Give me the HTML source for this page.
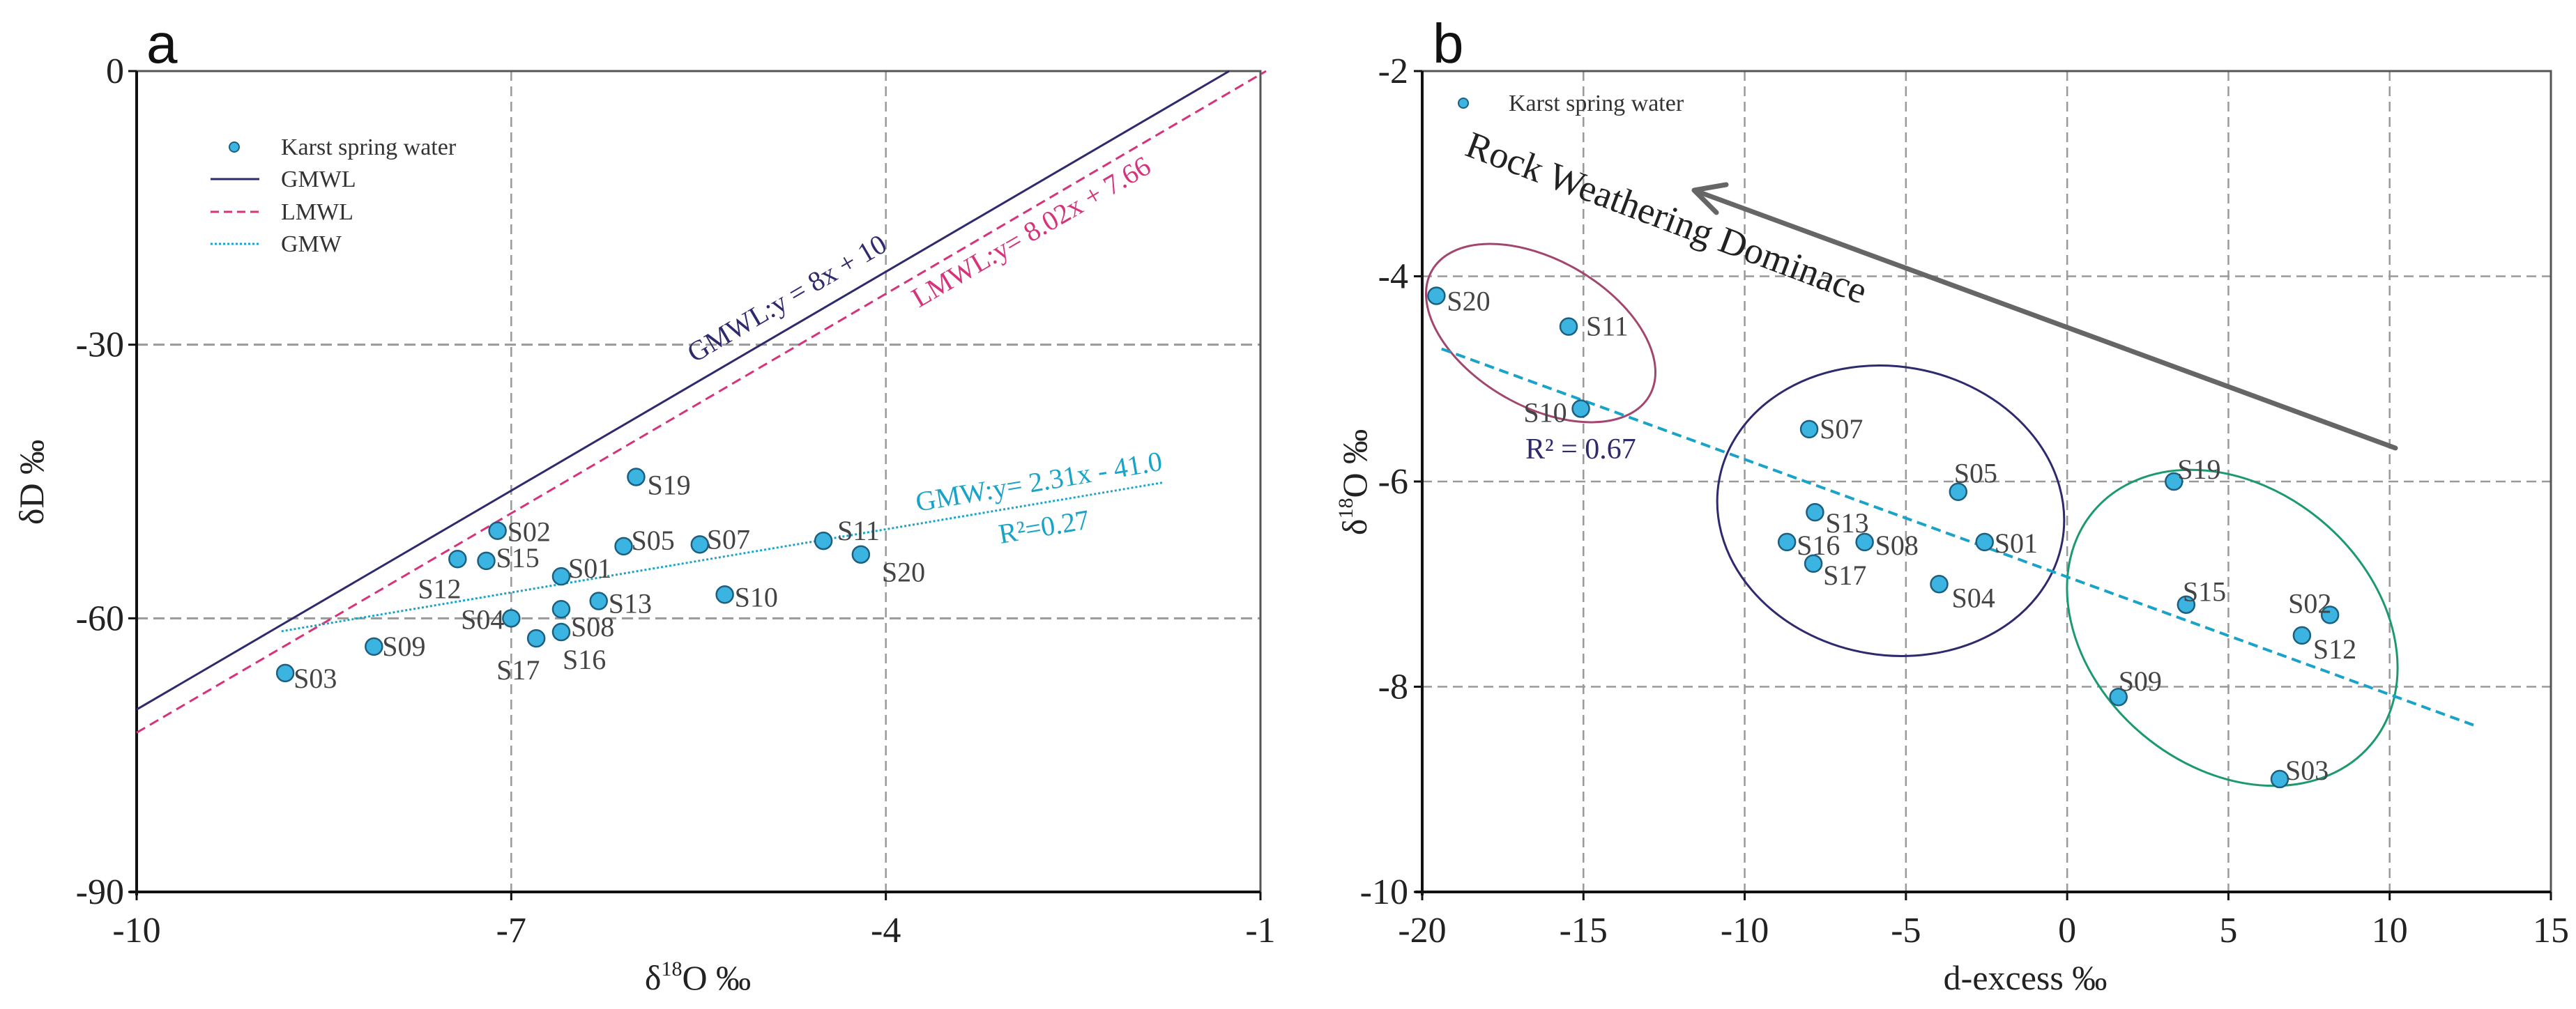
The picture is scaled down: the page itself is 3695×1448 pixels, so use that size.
<!DOCTYPE html>
<html><head><meta charset="utf-8"><style>
html,body{margin:0;padding:0;background:#fff;}
svg{display:block;font-family:"Liberation Serif",serif;}
</style></head><body>
<svg id="chart" width="3695" height="1448" viewBox="0 0 3695 1448" xmlns="http://www.w3.org/2000/svg"></svg>
<script>
// ---- Panel a data ----
const aNames = ["S19","S02","S15","S12","S05","S07","S01","S11","S20","S10","S13","S04","S08","S16","S17","S09","S03"];
const aO18 = [-6.00,-7.11,-7.20,-7.43,-6.10,-5.49,-6.60,-4.50,-4.20,-5.29,-6.30,-7.00,-6.60,-6.60,-6.80,-8.10,-8.81];
const aD = [-44.5,-50.4,-53.7,-53.5,-52.1,-51.9,-55.4,-51.5,-53.0,-57.4,-58.1,-60.0,-59.0,-61.5,-62.2,-63.1,-66.0];
const aXTicks = [-10,-7,-4,-1];
const aYTicks = [0,-30,-60,-90];
const gmwl = [8,10];        // slope, intercept
const lmwl = [8.02,7.66];
const gmw = [2.31,-41.0];
const gmwRange = [-8.84,-1.78];
// ---- Panel b data ----
const bNames = ["S20","S11","S10","S07","S05","S13","S16","S08","S01","S17","S04","S19","S15","S02","S12","S09","S03"];
const bDex = [-19.56,-15.46,-15.08,-8.0,-3.38,-7.82,-8.69,-6.28,-2.56,-7.87,-3.97,3.31,3.69,8.15,7.28,1.59,6.59];
const bO18 = [-4.19,-4.49,-5.29,-5.49,-6.10,-6.30,-6.59,-6.59,-6.59,-6.80,-7.00,-6.00,-7.20,-7.30,-7.50,-8.10,-8.90];
const bXTicks = [-20,-15,-10,-5,0,5,10,15];
const bYTicks = [-2,-4,-6,-8,-10];
const bFit = [-0.1146,-6.93];
const bFitRange = [-19.4,12.6];

// label placement (px offsets)
const aLab = {S19:[16,12,'start'],S02:[14,2,'start'],S15:[14,-4,'start'],S12:[-57,43,'start'],S05:[11,-8,'start'],S07:[10,-7,'start'],S01:[10,-11,'start'],S11:[20,-14,'start'],S20:[30,26,'start'],S10:[14,4,'start'],S13:[14,4,'start'],S04:[-10,2,'end'],S08:[14,26,'start'],S16:[2,40,'start'],S17:[-57,46,'start'],S09:[12,0,'start'],S03:[12,8,'start']};
const bLab = {S20:[15,8,'start'],S11:[25,0,'start'],S10:[-20,6,'end'],S07:[15,0,'start'],S05:[-6,-26,'start'],S13:[15,16,'start'],S16:[14,5,'start'],S08:[15,5,'start'],S01:[14,2,'start'],S17:[14,17,'start'],S04:[18,20,'start'],S19:[5,-17,'start'],S15:[-5,-18,'start'],S02:[-60,-16,'start'],S12:[16,20,'start'],S09:[0,-22,'start'],S03:[8,-12,'start']};

const svg = document.getElementById('chart');
const NS = 'http://www.w3.org/2000/svg';
function mk(tag, at, txt){const e=document.createElementNS(NS,tag);for(const k in at)e.setAttribute(k,at[k]);if(txt!==undefined)e.textContent=txt;svg.appendChild(e);return e;}

const xA=v=>196+(v+10)/9*1612, yA=v=>102+(-v)/90*1178;
const xB=v=>2040+(v+20)/35*1619, yB=v=>102+(-2-v)/8*1178;

// ---------- Panel a ----------
aXTicks.slice(1,3).forEach(t=>{let e=mk('line',{x1:xA(t),y1:102,x2:xA(t),y2:1280,stroke:'#999','stroke-width':2.5,'stroke-dasharray':'14 8'});

});
aYTicks.slice(1,3).forEach(t=>{let e=mk('line',{x1:196,y1:yA(t),x2:1808,y2:yA(t),stroke:'#999','stroke-width':3,'stroke-dasharray':'16 8'});

});
let fr=mk('rect',{x:196,y:102,width:1612,height:1178,fill:'none',stroke:'#555','stroke-width':3});


let ax=mk('path',{d:'M196 102V1285M186 1280H1808',stroke:'#111','stroke-width':4,fill:'none'});


aXTicks.forEach(t=>{let e=mk('text',{x:xA(t),y:1352,'text-anchor':'middle','font-size':52,fill:'#222'},String(t));


mk('line',{x1:xA(t),y1:1280,x2:xA(t),y2:1292,stroke:'#111','stroke-width':3});});
aYTicks.forEach(t=>{let e=mk('text',{x:178,y:yA(t)+17,'text-anchor':'end','font-size':52,fill:'#222'},String(t));


mk('line',{x1:184,y1:yA(t),x2:196,y2:yA(t),stroke:'#111','stroke-width':3});});
// lines
function regLine(p,x0,x1,col,w,dash,name){let e=mk('line',{x1:xA(x0),y1:yA(p[0]*x0+p[1]),x2:xA(x1),y2:yA(p[0]*x1+p[1]),stroke:col,'stroke-width':w,'stroke-dasharray':dash});

}
regLine(gmwl,-10,-10/8,'#2e2a6e',3,'none','gmwl-line');
regLine(lmwl,-10,-7.66/8.02,'#d6337a',3,'14 8','lmwl-line');
regLine(gmw,gmwRange[0],gmwRange[1],'#1aa3c8',3,'3 3','gmw-line');
// annotations
let t1=mk('text',{x:996,y:521,'font-size':40,fill:'#2e2a6e',transform:'rotate(-30.3 996 521)'},'GMWL:y = 8x + 10');

let t2=mk('text',{x:1318,y:442,'font-size':40,fill:'#d6337a',transform:'rotate(-30.3 1318 442)'},'LMWL:y= 8.02x + 7.66');

let t3=mk('text',{x:1316,y:734,'font-size':40,fill:'#1aa3c8',transform:'rotate(-9.6 1316 734)'},'GMW:y= 2.31x - 41.0');

let t4=mk('text',{x:1435,y:780,'font-size':40,fill:'#1aa3c8',transform:'rotate(-9.6 1435 780)'},'R²=0.27');

// points
aNames.forEach((n,i)=>{const cx=xA(aO18[i]),cy=yA(aD[i]);
let c=mk('circle',{cx:cx,cy:cy,r:12,fill:'#3cb4e2',stroke:'#1d5f7e','stroke-width':2.5});


const o=aLab[n];let l=mk('text',{x:cx+o[0],y:cy+o[1]+13,'text-anchor':o[2],'font-size':40,fill:'#444'},n);

});
// legend a
let lg=mk('circle',{cx:336,cy:211,r:7,fill:'#3cb4e2',stroke:'#1d5f7e','stroke-width':2});

mk('line',{x1:302,y1:257,x2:372,y2:257,stroke:'#2e2a6e','stroke-width':3});
mk('line',{x1:302,y1:304,x2:372,y2:304,stroke:'#d6337a','stroke-width':3,'stroke-dasharray':'12 7'});
mk('line',{x1:302,y1:350,x2:372,y2:350,stroke:'#1aa3c8','stroke-width':3,'stroke-dasharray':'3 3'});
[['Karst spring water',222],['GMWL',268],['LMWL',315],['GMW',361]].forEach(d=>{let e=mk('text',{x:403,y:d[1],'font-size':34,fill:'#333'},d[0]);
});
let la=mk('text',{x:210,y:90,'font-size':80,'font-family':'Liberation Sans, sans-serif',fill:'#111'},'a');

let axt=mk('text',{x:1001,y:1420,'text-anchor':'middle','font-size':50,fill:'#222'});

axt.innerHTML='δ<tspan font-size="30" dy="-20">18</tspan><tspan dy="20">O ‰</tspan>';
let ayt=mk('text',{x:62,y:692,'text-anchor':'middle','font-size':50,fill:'#222',transform:'rotate(-90 62 692)'},'δD ‰');


// ---------- Panel b ----------
bXTicks.slice(1,7).forEach(t=>{let e=mk('line',{x1:xB(t),y1:102,x2:xB(t),y2:1280,stroke:'#999','stroke-width':2.5,'stroke-dasharray':'14 8'});
});
bYTicks.slice(1,4).forEach(t=>{let e=mk('line',{x1:2040,y1:yB(t),x2:3659,y2:yB(t),stroke:'#999','stroke-width':2.5,'stroke-dasharray':'14 8'});
});
let fr2=mk('rect',{x:2040,y:102,width:1619,height:1178,fill:'none',stroke:'#555','stroke-width':3});

let ax2=mk('path',{d:'M2040 102V1285M2030 1280H3659',stroke:'#111','stroke-width':4,fill:'none'});

bXTicks.forEach(t=>{let e=mk('text',{x:xB(t),y:1352,'text-anchor':'middle','font-size':52,fill:'#222'},String(t));

mk('line',{x1:xB(t),y1:1280,x2:xB(t),y2:1292,stroke:'#111','stroke-width':3});});
bYTicks.forEach(t=>{let e=mk('text',{x:2020,y:yB(t)+17,'text-anchor':'end','font-size':52,fill:'#222'},String(t));

mk('line',{x1:2028,y1:yB(t),x2:2040,y2:yB(t),stroke:'#111','stroke-width':3});});
// ellipses
let e1=mk('ellipse',{cx:2210,cy:478,rx:180,ry:105,fill:'none',stroke:'#a3466e','stroke-width':3,transform:'rotate(30 2210 478)'});

let e2=mk('ellipse',{cx:2712,cy:733,rx:250,ry:207,fill:'none',stroke:'#2e2a6e','stroke-width':3,transform:'rotate(10 2712 733)'});

let e3=mk('ellipse',{cx:3202,cy:901,rx:260,ry:200,fill:'none',stroke:'#1d9a6c','stroke-width':3,transform:'rotate(40 3202 901)'});

// fit line
let fl=mk('line',{x1:xB(bFitRange[0]),y1:yB(bFit[0]*bFitRange[0]+bFit[1]),x2:xB(bFitRange[1]),y2:yB(bFit[0]*bFitRange[1]+bFit[1]),stroke:'#1aa3c8','stroke-width':4,'stroke-dasharray':'14 8'});

let r2=mk('text',{x:2188,y:658,'font-size':42,fill:'#2e2a6e'},'R² = 0.67');

// arrow
let ar=mk('path',{d:'M3436 643L2430 273M2430 273L2476 265M2430 273L2462 305',stroke:'#666','stroke-width':7,fill:'none','stroke-linecap':'round'});

let rw=mk('text',{x:2099,y:222,'font-size':54,fill:'#222',transform:'rotate(20.6 2099 222)'},'Rock Weathering Dominace');

// points
bNames.forEach((n,i)=>{const cx=xB(bDex[i]),cy=yB(bO18[i]);
let c=mk('circle',{cx:cx,cy:cy,r:12,fill:'#3cb4e2',stroke:'#1d5f7e','stroke-width':2.5});


const o=bLab[n];let l=mk('text',{x:cx+o[0],y:cy+o[1]+13,'text-anchor':o[2],'font-size':40,fill:'#444'},n);

});
let lg2=mk('circle',{cx:2099,cy:148,r:7,fill:'#3cb4e2',stroke:'#1d5f7e','stroke-width':2});

let lt2=mk('text',{x:2164,y:159,'font-size':34,fill:'#333'},'Karst spring water');

let lb=mk('text',{x:2055,y:90,'font-size':80,'font-family':'Liberation Sans, sans-serif',fill:'#111'},'b');

let bxt=mk('text',{x:2905,y:1420,'text-anchor':'middle','font-size':50,fill:'#222'},'d-excess ‰');

let byt=mk('text',{x:1960,y:692,'text-anchor':'middle','font-size':50,fill:'#222',transform:'rotate(-90 1960 692)'});

byt.innerHTML='δ<tspan font-size="30" dy="-20">18</tspan><tspan dy="20">O ‰</tspan>';
</script>
</body></html>
